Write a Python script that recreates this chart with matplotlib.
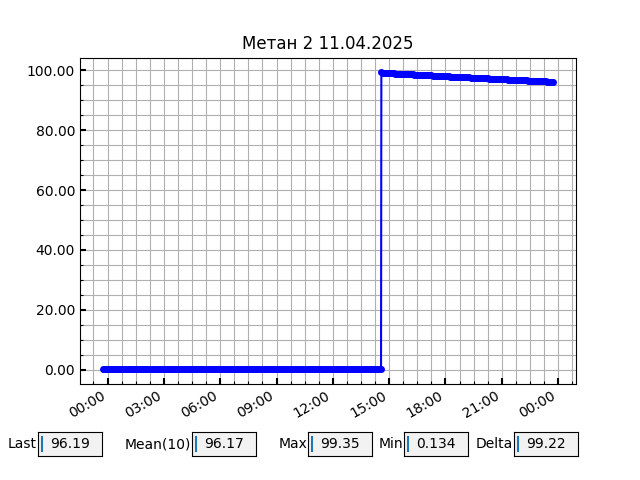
import matplotlib
matplotlib.use("Agg")
import matplotlib.pyplot as plt
import matplotlib.dates as mdates
from matplotlib.ticker import MultipleLocator, FormatStrFormatter
import pandas as pd

title = "Метан 2 11.04.2025"

low_start, low_end = "2025-04-10 23:44", "2025-04-11 14:34"
high_start, high_end = "2025-04-11 14:35", "2025-04-11 23:45"

low_values = [0.31, 0.30, 0.29, 0.28, 0.27, 0.29, 0.30, 0.28, 0.26, 0.27,
              0.25, 0.26, 0.27, 0.28, 0.29, 0.27, 0.24, 0.23, 0.22, 0.24,
              0.25, 0.23, 0.22, 0.21, 0.22, 0.24, 0.26, 0.25, 0.23, 0.22,
              0.20, 0.21, 0.23, 0.24, 0.25, 0.23, 0.21, 0.20, 0.19, 0.21,
              0.22, 0.23, 0.24, 0.22, 0.20, 0.19, 0.18, 0.20, 0.21, 0.22,
              0.23, 0.21, 0.19, 0.18, 0.17, 0.19, 0.20, 0.21, 0.22, 0.20,
              0.18, 0.17, 0.16, 0.18, 0.19, 0.20, 0.21, 0.19, 0.17, 0.16,
              0.15, 0.17, 0.18, 0.19, 0.20, 0.18, 0.16, 0.15, 0.14, 0.16,
              0.17, 0.134, 0.15, 0.17, 0.18, 0.19, 0.17, 0.16, 0.15, 0.16,
              0.18, 0.19, 0.20, 0.21, 0.19, 0.18, 0.17, 0.18, 0.20, 0.21,
              0.22, 0.20, 0.19, 0.18, 0.19, 0.21, 0.22, 0.23, 0.21, 0.20,
              0.19, 0.20, 0.22, 0.23, 0.24, 0.22, 0.21, 0.20, 0.21, 0.23,
              0.24, 0.25, 0.23, 0.22, 0.21, 0.22, 0.24, 0.25, 0.26, 0.24,
              0.23, 0.22, 0.23, 0.25, 0.26, 0.27, 0.25, 0.24, 0.23, 0.24,
              0.26, 0.27, 0.28, 0.26, 0.25, 0.24, 0.25, 0.27, 0.28, 0.29,
              0.27, 0.26, 0.25, 0.26, 0.28, 0.29, 0.30, 0.28, 0.27, 0.26,
              0.27, 0.29, 0.30, 0.31, 0.29, 0.28, 0.27, 0.28, 0.30, 0.31,
              0.32, 0.30, 0.29, 0.28, 0.29, 0.31, 0.32, 0.30, 0.29]

high_values = [99.35, 99.28, 99.22, 99.18, 99.14, 99.10, 99.07, 99.04, 99.01, 98.98,
               98.95, 98.92, 98.89, 98.86, 98.84, 98.81, 98.78, 98.75, 98.72, 98.70,
               98.67, 98.64, 98.61, 98.58, 98.55, 98.53, 98.50, 98.47, 98.44, 98.41,
               98.38, 98.36, 98.33, 98.30, 98.27, 98.25, 98.22, 98.19, 98.16, 98.14,
               98.11, 98.08, 98.05, 98.02, 97.99, 97.97, 97.94, 97.91, 97.88, 97.86,
               97.83, 97.80, 97.77, 97.75, 97.72, 97.69, 97.66, 97.64, 97.61, 97.58,
               97.55, 97.53, 97.50, 97.47, 97.44, 97.42, 97.39, 97.36, 97.33, 97.31,
               97.28, 97.25, 97.23, 97.20, 97.17, 97.14, 97.12, 97.09, 97.06, 97.04,
               97.01, 96.98, 96.96, 96.93, 96.90, 96.88, 96.85, 96.82, 96.80, 96.77,
               96.74, 96.72, 96.69, 96.66, 96.63, 96.61, 96.58, 96.55, 96.52, 96.50,
               96.47, 96.44, 96.41, 96.38, 96.35, 96.32, 96.29, 96.26, 96.24, 96.21,
               96.19]

stat_labels = ["Last", "Mean(10)", "Max", "Min", "Delta"]
stat_values = ["96.19", "96.17", "99.35", "0.134", "99.22"]

low_times = pd.date_range(low_start, low_end, periods=len(low_values))
high_times = pd.date_range(high_start, high_end, periods=len(high_values))
times = list(low_times) + list(high_times)
values = low_values + high_values

fig = plt.figure(figsize=(6.4, 4.8), dpi=100)
ax = fig.add_subplot(111)
ax.plot(times, values, color="blue", marker="o", markersize=5,
        markeredgewidth=0, linewidth=1.5)
ax.set_title(title)

ax.xaxis.set_major_locator(mdates.HourLocator(byhour=range(0, 24, 3)))
ax.xaxis.set_minor_locator(MultipleLocator(1 / 32))
ax.xaxis.set_major_formatter(mdates.DateFormatter("%H:%M"))
ax.yaxis.set_major_locator(MultipleLocator(20))
ax.yaxis.set_minor_locator(MultipleLocator(5))
ax.yaxis.set_major_formatter(FormatStrFormatter("%.2f"))
ax.tick_params(which="major", direction="in", length=4, width=1.5)
ax.tick_params(which="minor", direction="in", length=2, width=0.8)
ax.grid(which="both", color="#b0b0b0", linewidth=0.8)
ax.set_axisbelow(True)
fig.autofmt_xdate(bottom=0.2)

box_lefts = [0.059, 0.300, 0.481, 0.631, 0.803]
for lab, val, x0 in zip(stat_labels, stat_values, box_lefts):
    bax = fig.add_axes([x0, 0.049, 0.1, 0.052])
    bax.set_facecolor("0.95")
    bax.set_xticks([])
    bax.set_yticks([])
    bax.set_xlim(0, 1)
    bax.set_ylim(0, 1)
    bax.text(-0.01, 0.5, lab, transform=bax.transAxes, ha="right", va="center", fontsize=10)
    bax.text(0.5, 0.5, val, transform=bax.transAxes, ha="center", va="center", fontsize=10)
    bax.plot([0.06, 0.06], [0.2, 0.8], color="#1f77b4", linewidth=1.5)

fig.savefig("out.png", dpi=100)
